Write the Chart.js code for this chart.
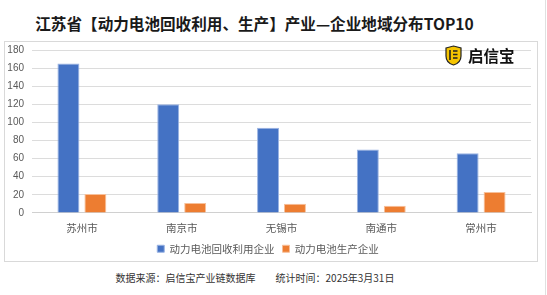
<!DOCTYPE html>
<html>
<head>
<meta charset="utf-8">
<script src="https://cdn.jsdelivr.net/npm/chart.js@4.4.1/dist/chart.umd.min.js"></script>
<style>
  html, body { margin: 0; padding: 0; background: #fff; }
  body { width: 547px; height: 295px; position: relative; overflow: hidden; font-family: "Noto Sans CJK SC", "Noto Sans", sans-serif; }
  .title { position: absolute; left: 0; width: 509px; top: 12px; text-align: center; font-size: 15.6px; font-weight: bold; color: #1a1a1a; }
  .frame { position: absolute; left: 4px; top: 41px; width: 532px; height: 219px; border: 1px solid #d9d9d9; }
  .edge { position: absolute; left: 545px; top: 0; width: 1px; height: 295px; background: #e0e0e0; }
  .chartbox { position: absolute; left: 5px; top: 36px; width: 531px; height: 228px; }
  .logo { position: absolute; left: 445px; top: 44px; height: 22px; display: flex; align-items: center; }
  .logo span { font-size: 15.5px; font-weight: bold; color: #111; margin-left: 6px; }
  .footer { position: absolute; left: 0; width: 510px; top: 270px; text-align: center; font-size: 10px; color: #333; }
  .footer b { font-weight: normal; margin-left: 20px; }
</style>
</head>
<body>
<div class="title">江苏省【动力电池回收利用、生产】产业—企业地域分布TOP10</div>
<div class="frame"></div>
<div class="edge"></div>
<div class="chartbox"><canvas id="chart"></canvas></div>
<div class="logo">
  <svg width="17" height="21" viewBox="0 0 17 21">
    <path d="M1 3 L8.5 1 L16 3 L16 11 C16 16 12 19 8.5 20 C5 19 1 16 1 11 Z" fill="#f5c400" stroke="#222" stroke-width="1.2"/>
    <path d="M5 5 L5 15" stroke="#222" stroke-width="1.6"/>
    <path d="M8 6 L12.5 6 M8 9.5 L12.5 9.5 M8 13 L12.5 13" stroke="#222" stroke-width="1.4"/>
  </svg>
  <span>启信宝</span>
</div>
<div class="footer">数据来源：启信宝产业链数据库<b>统计时间：2025年3月31日</b></div>

<script>
  // 城市
  const cities = ['苏州市', '南京市', '无锡市', '南通市', '常州市'];
  // 动力电池回收利用企业
  const recycling = [165, 120, 94, 70, 66];
  // 动力电池生产企业
  const production = [21, 11, 10, 8, 23];
  const yTicks = [0, 20, 40, 60, 80, 100, 120, 140, 160, 180];

  const ctx = document.getElementById('chart').getContext('2d');
  new Chart(ctx, {
    type: 'bar',
    data: {
      labels: cities,
      datasets: [
        {
          label: '动力电池回收利用企业',
          data: recycling,
          backgroundColor: '#4472C4',
          borderColor: '#9bb4e3',
          borderWidth: 1,
          categoryPercentage: 0.54,
          barPercentage: 0.815
        },
        {
          label: '动力电池生产企业',
          data: production,
          backgroundColor: '#ED7D31',
          borderColor: '#f7c09a',
          borderWidth: 1,
          categoryPercentage: 0.54,
          barPercentage: 0.815
        }
      ]
    },
    options: {
      responsive: true,
      maintainAspectRatio: false,
      animation: false,
      layout: { padding: { top: 2, right: 5, left: 0, bottom: 0 } },
      plugins: {
        legend: {
          position: 'bottom',
          labels: {
            boxWidth: 7,
            boxHeight: 7,
            padding: 8,
            color: '#595959',
            font: { size: 10.5, family: '"Noto Sans CJK SC", sans-serif' }
          }
        },
        tooltip: { enabled: false }
      },
      scales: {
        x: {
          grid: { display: false },
          border: { color: '#d0d0d0' },
          ticks: {
            color: '#595959',
            padding: 1,
            font: { size: 10.5, family: '"Noto Sans CJK SC", sans-serif' }
          }
        },
        y: {
          min: 0,
          max: 180,
          afterBuildTicks: (axis) => { axis.ticks = yTicks.map(v => ({ value: v })); },
          afterFit: (axis) => { axis.width = 27; },
          grid: { color: '#dcdcdc', drawTicks: false },
          border: { display: false },
          ticks: {
            color: '#595959',
            padding: 8,
            font: { size: 10, family: '"Liberation Sans", sans-serif' }
          }
        }
      }
    }
  });
</script>
</body>
</html>
